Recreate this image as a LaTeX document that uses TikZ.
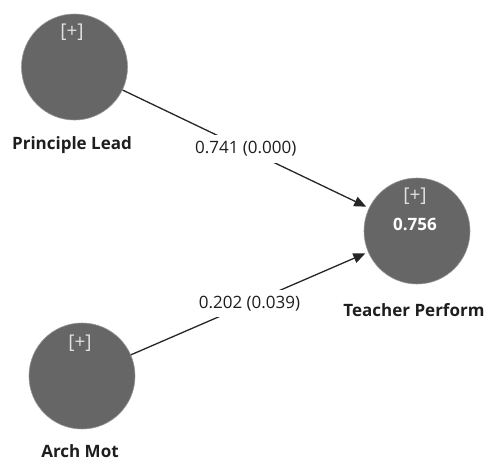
\documentclass[tikz,border=0pt]{standalone}
\usepackage{fontspec}
\setmainfont{Open Sans}
\usetikzlibrary{arrows.meta,calc}
\definecolor{lv}{RGB}{102,102,102}
\definecolor{lvedge}{RGB}{150,150,150}
\definecolor{inner}{RGB}{225,225,225}
\definecolor{txt}{RGB}{30,30,30}
\tikzset{
  lvnode/.style={circle,fill=lv,draw=lvedge,line width=0.6pt,minimum size=106pt,inner sep=0pt},
  plus/.style={text=inner,font=\fontsize{19}{21}\selectfont},
  rsq/.style={text=white,font=\bfseries\fontsize{17}{20}\selectfont},
  lvname/.style={text=txt,font=\bfseries\fontsize{17}{20}\selectfont},
  coef/.style={fill=white,text=txt,inner xsep=1pt,inner ysep=6pt,font=\fontsize{17}{20}\selectfont},
  pathline/.style={draw=black!85,line width=1.3pt,shorten >=3pt,-{Triangle[length=12pt,width=10pt]}}
}
\begin{document}
\begin{tikzpicture}[x=1pt,y=-1pt]
\useasboundingbox (0,0) rectangle (485,461);
\node[lvnode] (pl) at (74.5,67) {};
\node[lvnode] (am) at (82,376) {};
\node[lvnode] (tp) at (417,231) {};
\node[plus] (plp) at (72,32) {[+]};
\node[plus] (amp) at (80,343) {[+]};
\node[plus] (tpp) at (415,196) {[+]};
\node[rsq] (tpr) at (415,224) {0.756};
\node[lvname] (pln) at (72,145) {Principle Lead};
\node[lvname] (amn) at (80,451) {Arch Mot};
\node[lvname] (tpn) at (414,310) {Teacher Perform};
\draw[pathline] (pl) -- (tp);
\draw[pathline] (am) -- (tp);
\node[coef] (c1) at ($(pl)!0.5!(tp)$) {0.741 (0.000)};
\node[coef] (c2) at ($(am)!0.5!(tp)$) {0.202 (0.039)};
\end{tikzpicture}
\end{document}
